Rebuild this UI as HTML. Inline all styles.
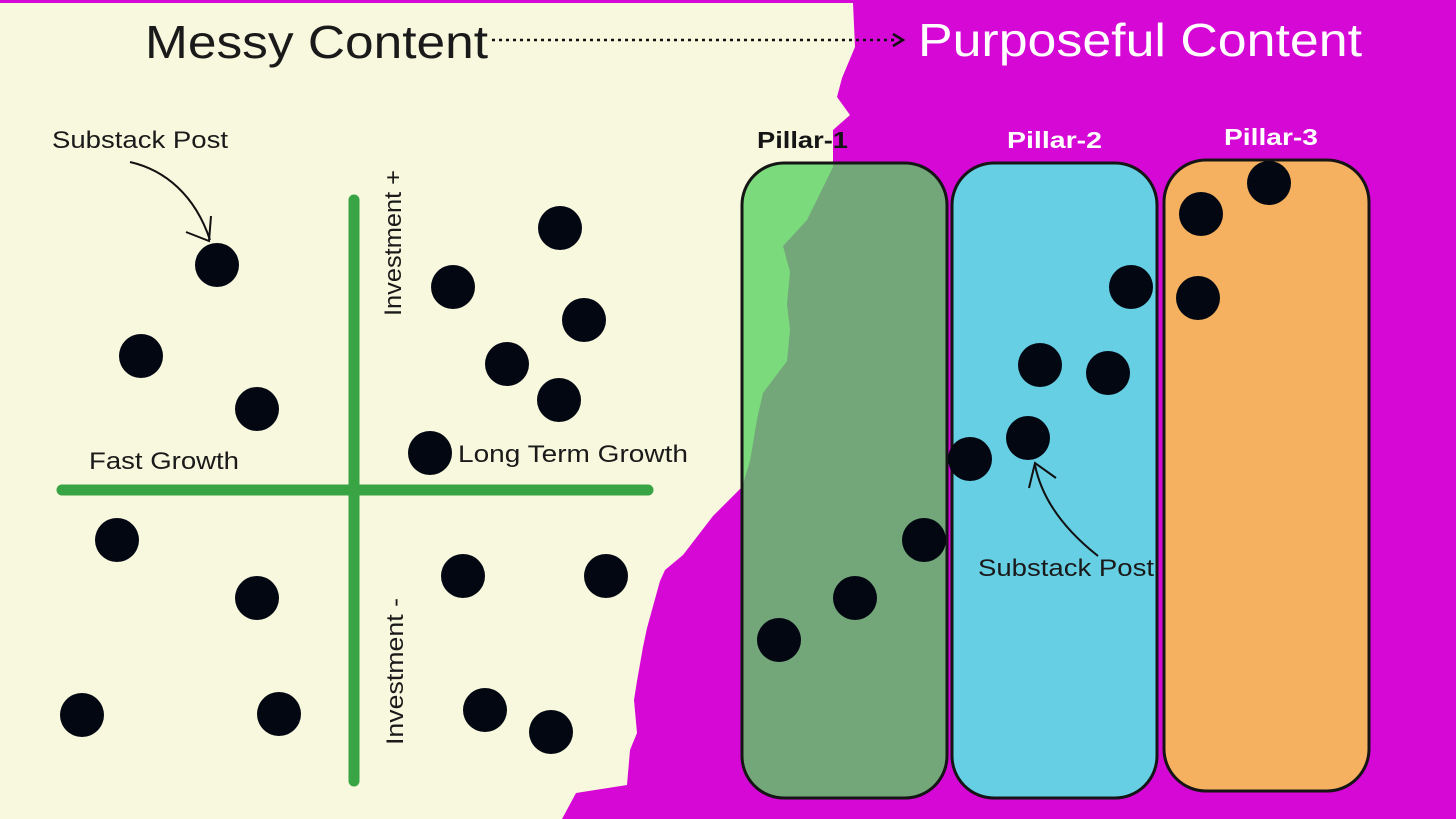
<!DOCTYPE html>
<html><head><meta charset="utf-8"><style>
html,body{margin:0;padding:0;width:1456px;height:819px;overflow:hidden;background:#d508d5}
svg{display:block}
text{font-family:"Liberation Sans",sans-serif}
</style></head><body>
<svg width="1456" height="819" viewBox="0 0 1456 819" xmlns="http://www.w3.org/2000/svg">
<rect width="1456" height="819" fill="#d508d5"/>
<path d="M0 3 L853 3 L855 47 L842 78 L837 97 L850 115 L833 130 L833 167 L807 220 L783 246 L790 272 L787 304 L790 330 L787 361 L763 393 L757 419 L750 461 L742 487 L713 516 L683 555 L665 570 L660 581 L647 628 L643 647 L637 681 L634 700 L637 733 L630 750 L627 785 L576 793 L562 819 L0 819 Z" fill="#f8f8de"/>
<!-- header -->
<text x="145" y="58" font-size="46" fill="#1a1a1a" textLength="343" lengthAdjust="spacingAndGlyphs">Messy Content</text>
<line x1="492" y1="40" x2="898" y2="40" stroke="#111" stroke-width="2.5" stroke-dasharray="3,4"/>
<path d="M893 34 L903 40 L893 46" fill="none" stroke="#111" stroke-width="2.5"/>
<text x="918" y="56" font-size="46" fill="#fff" textLength="444" lengthAdjust="spacingAndGlyphs">Purposeful Content</text>
<!-- cross -->
<line x1="354" y1="200" x2="354" y2="781" stroke="#38a443" stroke-width="11" stroke-linecap="round"/>
<line x1="62" y1="490" x2="648" y2="490" stroke="#38a443" stroke-width="11" stroke-linecap="round"/>
<text x="52" y="148" font-size="24" fill="#1a1a1a" textLength="176" lengthAdjust="spacingAndGlyphs">Substack Post</text>
<text x="89" y="469" font-size="24" fill="#1a1a1a" textLength="150" lengthAdjust="spacingAndGlyphs">Fast Growth</text>
<text x="458" y="462" font-size="24" fill="#1a1a1a" textLength="230" lengthAdjust="spacingAndGlyphs">Long Term Growth</text>
<text transform="translate(401,316) rotate(-90)" font-size="24" fill="#1a1a1a" textLength="146" lengthAdjust="spacingAndGlyphs">Investment +</text>
<text transform="translate(403,745) rotate(-90)" font-size="24" fill="#1a1a1a" textLength="147" lengthAdjust="spacingAndGlyphs">Investment -</text>
<path d="M130 162 C165 170 195 195 210 240" fill="none" stroke="#111" stroke-width="2"/>
<path d="M186 232 L209 241 L211 216" fill="none" stroke="#111" stroke-width="2"/>
<!-- pillars -->
<rect x="742" y="163" width="205" height="635" rx="42" fill="rgba(89,211,98,0.79)" stroke="#151515" stroke-width="3"/>
<rect x="952" y="163" width="205" height="635" rx="42" fill="#66cfe4" stroke="#151515" stroke-width="3"/>
<rect x="1164" y="160" width="205" height="631" rx="42" fill="#f6b160" stroke="#151515" stroke-width="3"/>
<text x="757" y="148" font-size="23" font-weight="bold" fill="#151515" textLength="91" lengthAdjust="spacingAndGlyphs">Pillar-1</text>
<text x="1007" y="148" font-size="23" font-weight="bold" fill="#fff" textLength="95" lengthAdjust="spacingAndGlyphs">Pillar-2</text>
<text x="1224" y="145" font-size="23" font-weight="bold" fill="#fff" textLength="94" lengthAdjust="spacingAndGlyphs">Pillar-3</text>
<text x="978" y="576" font-size="24" fill="#1a1a1a" textLength="176" lengthAdjust="spacingAndGlyphs">Substack Post</text>
<path d="M1098 556 C1065 530 1042 500 1035 465" fill="none" stroke="#111" stroke-width="2"/>
<path d="M1029 488 L1035 463 L1056 478" fill="none" stroke="#111" stroke-width="2"/>
<g fill="#030712">
<circle cx="217" cy="265" r="22"/><circle cx="141" cy="356" r="22"/><circle cx="257" cy="409" r="22"/>
<circle cx="560" cy="228" r="22"/><circle cx="453" cy="287" r="22"/><circle cx="584" cy="320" r="22"/>
<circle cx="507" cy="364" r="22"/><circle cx="559" cy="400" r="22"/><circle cx="430" cy="453" r="22"/>
<circle cx="117" cy="540" r="22"/><circle cx="257" cy="598" r="22"/><circle cx="463" cy="576" r="22"/>
<circle cx="606" cy="576" r="22"/><circle cx="82" cy="715" r="22"/><circle cx="279" cy="714" r="22"/>
<circle cx="485" cy="710" r="22"/><circle cx="551" cy="732" r="22"/>
<circle cx="779" cy="640" r="22"/><circle cx="855" cy="598" r="22"/><circle cx="924" cy="540" r="22"/>
<circle cx="970" cy="459" r="22"/><circle cx="1028" cy="438" r="22"/><circle cx="1040" cy="365" r="22"/>
<circle cx="1108" cy="373" r="22"/><circle cx="1131" cy="287" r="22"/><circle cx="1201" cy="214" r="22"/>
<circle cx="1269" cy="183" r="22"/><circle cx="1198" cy="298" r="22"/>
</g>
</svg>
</body></html>
